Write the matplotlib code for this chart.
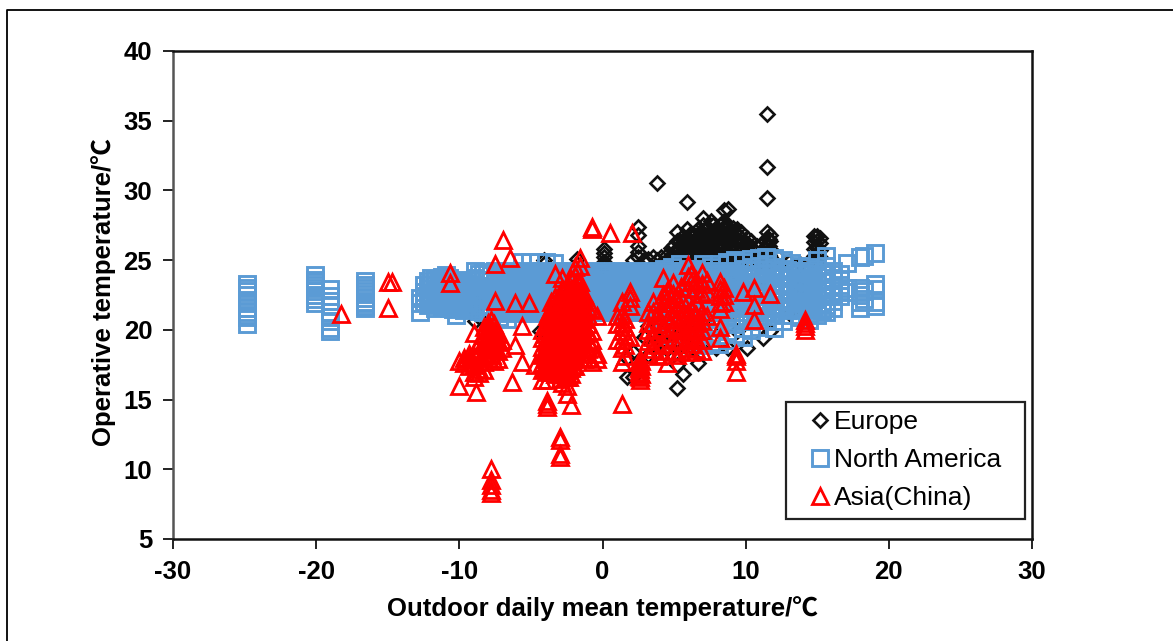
from matplotlib import pyplot as plt
from matplotlib.lines import Line2D

plt.rcParams['font.family'] = ['Liberation Sans', 'Noto Sans CJK SC', 'DejaVu Sans']
plt.rcParams['axes.unicode_minus'] = False

x_ticks = [-30, -20, -10, 0, 10, 20, 30]
y_ticks = [5, 10, 15, 20, 25, 30, 35, 40]
names = ["Europe", "North America", "Asia(China)"]

# every series is kept per column: one x value and the y values read at that x
europe_x = [-8.9, -8.6, -4.4, -4.1, -1.8, 0.1, 1.7, 2.1, 2.5, 2.9, 3.2, 3.5, 3.8, 4.1, 4.5, 4.8, 5.2, 5.6, 5.9,
            6.3, 6.7, 7.0, 7.3, 7.6, 7.9, 8.2, 8.5, 8.8, 9.1, 9.4, 9.7, 10.1, 10.4, 10.8, 11.2, 11.5, 11.7,
            12.2, 13.0, 13.8, 14.8, 15.0, 15.2,
            5.0, 5.4, 6.1, 6.5, 6.85, 7.15, 7.45, 7.75, 8.05, 8.35, 8.65, 8.95, 9.25, 9.55, 9.85, 10.25, 10.6, 11.0, 11.35, 11.6, 4.6, 6.0, 6.6, 7.2]
europe_y = [[22.1, 21.3, 20.6], [21.7, 20.9], [19.9], [25.0, 24.7], [25.1, 24.7], [25.8, 25.5, 25.2, 24.9, 24.6],
            [16.6, 18.0], [16.6, 18.4, 25.0], [27.4, 26.8, 26.0, 25.6, 25.2], [25.0, 19.5], [25.1, 20.3, 18.2],
            [25.2, 19.9, 18.9], [30.5, 25.0, 20.4, 18.4], [25.2, 20.1, 19.2], [25.4, 25.0, 20.3, 19.4, 18.6],
            [25.9, 25.3, 20.6, 19.7, 19.0], [27.0, 26.4, 25.8, 25.2, 24.7, 20.2, 19.3, 17.5, 15.8],
            [26.7, 26.2, 25.5, 24.9, 20.5, 19.6, 18.9, 16.8], [29.2, 27.2, 26.6, 26.0, 25.4, 24.8, 22.6, 20.1, 19.2],
            [26.9, 26.3, 25.7, 25.1, 24.6, 20.4, 19.5, 18.7], [27.2, 26.5, 25.9, 25.3, 24.7, 21.9, 19.9, 18.9, 17.6],
            [28.0, 27.5, 26.9, 26.3, 25.7, 25.1, 24.6, 20.3, 19.4], [27.4, 26.8, 26.2, 25.6, 25.0, 23.1, 19.8],
            [27.8, 27.1, 26.6, 26.0, 25.4, 24.8, 20.1], [27.3, 26.7, 26.1, 25.5, 24.9, 21.4, 18.7],
            [27.5, 26.9, 26.4, 25.8, 25.2, 24.7, 22.4], [28.6, 27.8, 27.2, 26.6, 26.0, 25.4, 24.9],
            [28.7, 27.4, 26.8, 26.2, 25.6, 25.0, 23.6, 18.7], [27.3, 26.7, 26.1, 25.5, 24.9, 21.2],
            [27.2, 26.5, 25.9, 25.3, 24.7, 19.9], [27.0, 26.3, 25.7, 25.1, 22.7], [26.6, 26.0, 25.4, 24.8, 18.7],
            [26.4, 25.8, 25.2, 21.6], [26.0, 25.4, 24.9, 20.9], [25.6, 25.1, 22.9, 19.4],
            [35.5, 31.7, 29.45, 27.0, 26.6, 26.1, 25.5, 21.4], [26.8, 26.4, 25.8, 25.2, 19.9], [25.3, 22.3],
            [24.9, 21.2], [24.7, 23.1], [26.7, 26.3, 25.8, 25.3, 24.9], [26.7, 26.4, 25.9, 25.4, 24.8],
            [26.6, 26.2, 25.7, 25.2],
            [26.1, 25.5, 24.9, 19.8, 19.0], [26.4, 25.8, 25.2, 19.6], [26.9, 26.3, 25.7, 25.1, 19.8, 19.3], [26.6, 26.0, 25.4, 24.8, 19.7, 19.0],
            [27.1, 26.6, 26.0, 25.4, 24.8, 20.0, 19.5], [27.2, 26.6, 26.0, 25.4, 24.8, 19.7], [26.9, 26.4, 25.8, 25.2, 24.7], [27.5, 26.9, 26.3, 25.7, 25.1],
            [27.2, 26.6, 26.0, 25.4, 24.8], [27.6, 27.0, 26.5, 25.9, 25.3, 24.7], [27.5, 26.9, 26.3, 25.7, 25.1], [27.1, 26.5, 25.9, 25.3, 24.8],
            [27.0, 26.4, 25.8, 25.2], [26.7, 26.1, 25.5, 24.9], [26.4, 25.8, 25.2], [26.1, 25.5, 25.0], [25.7, 25.2], [25.3, 24.9],
            [26.4, 25.9, 25.3], [26.5, 26.0, 25.4, 24.9], [18.8, 19.7, 20.1], [19.5, 18.6, 19.0], [19.4, 18.8], [19.2, 18.9]]

america_x = [-24.8, -20.1, -19.0, -16.6, -12.75, -12.2, -11.7, -11.2, -10.7, -10.2, -9.7, -9.3,
             -8.9, -8.35, -7.8, -7.25, -6.7, -6.15, -5.6, -5.05, -4.5, -3.95, -3.4, -2.85, -2.3, -1.75, -1.2, -0.65,
             -0.1, 0.45, 1.0, 1.55, 2.1, 2.65, 3.2, 3.75, 4.3, 4.85, 5.4, 5.95, 6.5, 7.05, 7.6, 8.15, 8.7, 9.25,
             9.8, 10.35, 10.9, 11.45, 12.0, 12.6, 13.2, 13.8, 14.4, 15.0, 15.6, 16.1, 16.6, 17.1, 18.0, 18.3, 19.0,
             -12.45, -11.95, -11.45, -10.95, -10.45, -9.95, -9.5,
             -8.65, -8.1, -7.5, -7.0, -6.45, -5.9, -5.35, -4.8, -4.25, -3.7, -3.1, -2.6, -2.05, -1.5, -0.95, -0.4,
             0.2, 0.75, 1.3, 1.85, 2.4, 2.95, 3.5, 4.0, 4.6, 5.15, 5.7, 6.2, 6.8, 7.3, 7.9, 8.4, 9.0, 9.5,
             10.1, 10.65, 11.2, 11.75, 12.3, 12.9, 13.5, 14.1, 14.7, 15.3]
america_y = [[23.3, 23.0, 22.8, 22.5, 22.1, 21.9, 21.6, 21.3, 21.1, 20.9, 20.4],
             [23.9, 23.6, 23.4, 23.2, 23.0, 22.8, 22.5, 22.2, 21.9],
             [22.9, 22.4, 22.1, 21.7, 21.3, 20.9, 20.6, 20.1, 19.9],
             [23.5, 23.2, 23.0, 22.8, 22.6, 22.3, 22.0, 21.9, 21.7, 21.6],
             [22.3, 21.9, 21.3], [23.5, 23.0, 22.6, 22.2, 21.8], [23.6, 23.2, 22.8, 22.4, 22.0, 21.6],
             [23.8, 23.4, 22.9, 22.5, 22.1, 21.7], [23.7, 23.3, 22.9, 22.5, 22.0, 21.6], [23.4, 23.0, 22.6, 22.2, 21.7, 21.1],
             [23.5, 23.1, 22.7, 22.3, 21.9, 21.4], [23.2, 22.8, 22.4, 22.0, 21.5],
             [24.2, 23.75, 23.3, 22.85, 22.4, 21.95, 21.5], [24.15, 23.5, 23.05, 22.6, 22.15, 21.7, 21.25],
             [23.95, 23.5, 23.05, 22.6, 22.15, 21.7, 21.25], [24.1, 23.65, 23.2, 22.75, 22.3, 21.85, 21.4, 20.9],
             [23.9, 23.45, 23.0, 22.55, 22.1, 21.65, 21.2, 20.8], [24.1, 23.65, 23.2, 22.75, 22.3, 21.85, 21.4],
             [24.9, 23.9, 23.45, 23.0, 22.55, 22.1, 21.65, 21.2], [24.9, 24.1, 23.65, 23.2, 22.75, 22.3, 21.85, 21.4],
             [24.85, 23.9, 23.45, 23.0, 22.55, 22.1, 21.65, 21.2], [24.9, 24.1, 23.65, 23.2, 22.75, 22.3, 21.85, 21.4],
             [24.8, 23.9, 23.45, 23.0, 22.55, 22.1, 21.65, 21.2], [24.1, 23.65, 23.2, 22.75, 22.3, 21.85, 21.4],
             [23.9, 23.45, 23.0, 22.55, 22.1, 21.65, 21.2], [24.1, 23.65, 23.2, 22.75, 22.3, 21.85, 21.4],
             [23.9, 23.45, 23.0, 22.55, 22.1, 21.65, 21.2], [24.1, 23.65, 23.2, 22.75, 22.3, 21.85, 21.4],
             [23.9, 23.45, 23.0, 22.55, 22.1, 21.65, 21.3], [24.1, 23.65, 23.2, 22.75, 22.3, 21.85, 21.4],
             [23.9, 23.45, 23.0, 22.55, 22.1, 21.65, 21.3], [24.1, 23.65, 23.2, 22.75, 22.3, 21.85, 21.4],
             [23.9, 23.45, 23.0, 22.55, 22.1, 21.65, 21.3], [24.1, 23.65, 23.2, 22.75, 22.3, 21.85, 21.4],
             [23.9, 23.45, 23.0, 22.55, 22.1, 21.65, 21.2], [24.1, 23.65, 23.2, 22.75, 22.3, 21.85, 21.4, 20.7],
             [24.4, 23.9, 23.45, 23.0, 22.55, 22.1, 21.65, 21.2, 20.5], [24.5, 24.1, 23.65, 23.2, 22.75, 22.3, 21.85, 21.4, 20.3, 19.6],
             [24.7, 23.9, 23.45, 23.0, 22.55, 22.1, 21.65, 21.2, 20.7, 20.1], [24.4, 24.1, 23.65, 23.2, 22.75, 22.3, 21.85, 21.4, 20.4, 19.5],
             [24.4, 23.9, 23.45, 23.0, 22.55, 22.1, 21.65, 21.0, 20.6, 19.9, 19.2], [24.7, 24.1, 23.65, 23.2, 22.75, 22.3, 21.85, 21.3, 20.2, 19.6, 18.9],
             [24.5, 23.9, 23.45, 23.0, 22.55, 22.1, 21.65, 21.0, 20.5, 19.8, 19.1], [24.7, 24.1, 23.65, 23.2, 22.75, 22.3, 21.85, 21.3, 20.3, 19.6, 19.0],
             [24.9, 23.9, 23.45, 23.0, 22.55, 22.1, 21.65, 21.0, 20.6, 19.9, 19.3], [25.0, 24.1, 23.65, 23.2, 22.75, 22.3, 21.85, 21.3, 20.4, 19.7],
             [24.9, 24.4, 23.9, 23.45, 22.9, 22.4, 21.9, 21.3, 20.8, 20.1, 19.5], [25.1, 24.5, 23.95, 23.4, 22.8, 22.3, 21.8, 21.2, 20.6, 20.0],
             [25.15, 24.6, 24.0, 23.5, 22.9, 22.4, 21.8, 21.3, 20.7, 20.2], [25.2, 24.7, 24.1, 23.5, 23.0, 22.4, 21.9, 21.3, 20.7],
             [25.15, 24.5, 24.0, 23.4, 22.9, 22.3, 21.8, 21.2, 20.6, 20.1], [25.0, 24.4, 23.9, 23.3, 22.8, 22.2, 21.7, 21.1, 20.6],
             [24.8, 24.2, 23.7, 23.2, 22.7, 22.1, 21.6, 21.1], [24.6, 24.1, 23.5, 23.0, 22.5, 21.9, 21.4, 20.9],
             [24.5, 24.0, 23.4, 22.9, 22.3, 21.8, 21.2, 20.7], [25.0, 24.4, 23.8, 23.3, 22.7, 22.2, 21.6, 21.1],
             [25.3, 24.6, 24.0, 23.5, 22.9, 22.4, 21.8, 21.3], [24.2, 23.7, 23.1, 22.6, 22.1, 21.6],
             [24.0, 23.6, 23.2, 22.8, 22.4], [24.8, 23.0, 22.7], [25.2, 23.0, 22.5, 22.0, 21.6], [25.3, 22.8, 22.2], [25.5, 23.3, 22.9, 22.0, 21.7],
             [23.2, 22.7, 22.4, 22.0], [23.7, 23.3, 22.9, 22.5, 22.1], [23.5, 23.1, 22.7, 22.3, 21.9], [23.9, 23.5, 23.1, 22.7, 22.3, 21.8],
             [23.5, 23.1, 22.7, 22.3, 21.9, 21.5], [23.6, 23.2, 22.8, 22.4, 22.0, 21.6], [23.3, 22.9, 22.5, 22.1, 21.7],
             [24.0, 23.6, 23.15, 22.7, 22.25, 21.8, 21.35], [24.0, 23.6, 23.15, 22.7, 22.25, 21.8, 21.35], [24.25, 23.8, 23.35, 22.9, 22.45, 22.0, 21.55],
             [24.0, 23.55, 23.1, 22.65, 22.2, 21.75, 21.3], [24.25, 23.8, 23.35, 22.9, 22.45, 22.0, 21.55], [24.0, 23.55, 23.1, 22.65, 22.2, 21.75, 21.3],
             [24.25, 23.8, 23.35, 22.9, 22.45, 22.0, 21.55], [24.0, 23.55, 23.1, 22.65, 22.2, 21.75, 21.3], [24.25, 23.8, 23.35, 22.9, 22.45, 22.0, 21.55],
             [24.0, 23.55, 23.1, 22.65, 22.2, 21.75, 21.3], [24.25, 23.8, 23.35, 22.9, 22.45, 22.0, 21.55], [24.0, 23.55, 23.1, 22.65, 22.2, 21.75, 21.3],
             [24.25, 23.8, 23.35, 22.9, 22.45, 22.0, 21.55], [24.0, 23.55, 23.1, 22.65, 22.2, 21.75, 21.3], [24.25, 23.8, 23.35, 22.9, 22.45, 22.0, 21.55],
             [24.0, 23.55, 23.1, 22.65, 22.2, 21.75, 21.3],
             [24.25, 23.8, 23.35, 22.9, 22.45, 22.0, 21.55], [24.0, 23.55, 23.1, 22.65, 22.2, 21.75, 21.3], [24.25, 23.8, 23.35, 22.9, 22.45, 22.0, 21.55],
             [24.0, 23.55, 23.1, 22.65, 22.2, 21.75, 21.3], [24.25, 23.8, 23.35, 22.9, 22.45, 22.0, 21.55], [24.0, 23.55, 23.1, 22.65, 22.2, 21.75, 21.3],
             [24.25, 23.8, 23.35, 22.9, 22.45, 22.0, 21.55], [24.0, 23.55, 23.1, 22.65, 22.2, 21.75, 21.3], [24.25, 23.8, 23.35, 22.9, 22.45, 22.0, 21.55],
             [24.0, 23.55, 23.1, 22.65, 22.2, 21.75, 21.3], [24.25, 23.8, 23.35, 22.9, 22.45, 22.0, 21.55], [24.0, 23.55, 23.1, 22.65, 22.2, 21.75, 21.3],
             [24.25, 23.8, 23.35, 22.9, 22.45, 22.0, 21.55], [24.0, 23.55, 23.1, 22.65, 22.2, 21.75, 21.3], [24.25, 23.8, 23.35, 22.9, 22.45, 22.0, 21.55],
             [24.0, 23.55, 23.1, 22.65, 22.2, 21.75, 21.3], [24.25, 23.8, 23.35, 22.9, 22.45, 22.0, 21.55], [24.0, 23.55, 23.1, 22.65, 22.2, 21.75, 21.3],
             [24.3, 23.8, 23.3, 22.7, 22.1, 21.55, 21.0], [24.3, 23.7, 23.2, 22.6, 22.0, 21.5, 20.9], [24.4, 23.8, 23.25, 22.65, 22.1, 21.6, 21.0],
             [24.3, 23.7, 23.2, 22.6, 22.15, 21.55], [24.2, 23.75, 23.2, 22.6, 22.05, 21.5], [24.3, 23.75, 23.15, 22.6, 22.0, 21.45],
             [24.2, 23.65, 23.1, 22.5, 22.05, 21.5], [24.1, 23.7, 23.15, 22.6, 22.0, 21.5], [24.25, 23.7, 23.1, 22.5, 22.0, 21.4], [24.0, 23.5, 23.0, 22.45, 21.9, 21.4]]

asia_x = [-18.25, -15.0, -14.7, -10.65, -10.0, -9.7, -9.3, -9.0, -8.85, -8.6, -8.3, -8.0, -7.8, -7.6, -7.5, -7.3, -7.0, -6.95,
          -6.45, -6.3, -6.1, -5.6, -5.15, -4.7, -4.2, -3.9, -3.6, -3.3, -3.0, -2.8, -2.5, -2.2, -1.9, -1.6, -1.3, -1.0, -0.7, -0.4,
          0.5, 1.0, 1.35, 1.6, 1.9, 2.05, 2.6, 3.2, 3.5, 3.9, 4.2, 4.5, 4.9, 5.2, 5.5, 5.95, 6.2, 6.5, 6.95, 7.3, 8.2, 8.5,
          9.3, 9.8, 10.55, 11.7, 14.15,
          -4.05, -3.75, -3.45, -3.15, -2.9, -2.65, -2.35, -2.05, -1.75, -1.45, -7.9, -7.7, 2.55, 2.7]
asia_y = [[21.15], [23.4, 21.55], [23.4], [24.1, 23.35], [17.8, 16.0], [18.0, 17.6], [18.3, 17.9, 17.4], [19.8, 18.1, 17.5, 17.0, 16.6],
          [18.6, 18.0, 15.55], [19.1, 18.5, 17.8, 17.2, 16.9], [20.2, 19.6, 19.0, 18.3, 17.7, 17.1], [20.5, 20.0, 19.4, 18.8, 18.2],
          [20.7, 20.1, 19.5, 18.9, 18.3, 10.0, 9.2, 8.9, 8.5, 8.3], [20.4, 19.8, 19.2, 18.6, 17.8], [24.7, 22.1, 20.0, 19.4, 18.8], [19.7, 19.1, 18.5, 17.9],
          [19.3, 18.7], [26.45], [25.15], [16.25], [21.9, 18.9], [20.3, 17.7], [21.95], [17.5], [20.0, 19.4, 18.8, 18.2, 17.6, 17.1, 16.4],
          [21.0, 20.5, 20.0, 19.5, 19.0, 18.5, 18.0, 17.5, 17.0, 16.4, 14.9, 14.7, 14.5], [22.0, 21.5, 21.0, 20.5, 20.0, 19.5, 19.0, 18.5, 18.0, 17.5, 17.0],
          [24.0, 22.35, 21.8, 21.3, 20.8, 20.3, 19.8, 19.3, 18.8, 18.3, 17.8, 17.3, 16.8], [22.5, 22.0, 21.5, 21.0, 20.5, 20.0, 19.5, 19.0, 18.5, 18.0, 17.5, 17.0, 16.5, 12.3, 12.1, 11.1, 10.9],
          [23.7, 22.9, 22.3, 21.8, 21.3, 20.8, 20.3, 19.8, 19.3, 18.8, 18.3, 17.8, 17.3, 16.8, 16.2],
          [23.2, 22.6, 22.1, 21.6, 21.1, 20.6, 20.1, 19.6, 19.1, 18.6, 18.1, 17.6, 17.1, 16.6, 16.0, 15.4],
          [23.6, 22.9, 22.3, 21.8, 21.3, 20.8, 20.3, 19.8, 19.3, 18.8, 18.3, 17.8, 17.3, 16.8, 14.6],
          [24.5, 23.9, 23.2, 22.6, 22.1, 21.6, 21.1, 20.6, 20.1, 19.6, 19.1, 18.6, 18.1, 17.4],
          [25.15, 24.6, 23.4, 22.8, 22.2, 21.6, 21.0, 20.4, 19.8, 19.2, 18.6, 18.0], [22.6, 22.0, 21.4, 20.8, 20.2, 19.6, 19.0, 18.4, 17.9],
          [21.6, 21.0, 20.4, 19.8, 19.2, 18.6, 18.0], [27.4, 27.2, 21.4, 19.9, 19.3, 18.7, 17.7], [21.0, 18.3, 17.9],
          [26.95], [21.0, 20.4, 19.3], [22.0, 21.1, 20.5, 19.9, 19.3, 18.7, 17.7, 14.7], [20.8, 20.2, 19.6, 18.9, 18.1],
          [22.7, 22.3, 21.7, 19.5], [26.95], [17.9, 17.5, 17.2, 16.9, 16.6, 16.4], [21.3, 20.5, 20.0, 19.2, 18.3], [22.0, 21.3, 20.5, 19.5, 18.6],
          [21.1, 20.4, 19.7, 18.9, 18.1], [23.7, 22.5, 21.9, 21.3, 20.1, 19.0, 18.2], [22.8, 22.2, 21.5, 20.7, 19.8, 18.5, 17.6],
          [23.35, 22.6, 21.9, 21.0, 20.2, 19.3, 18.4], [22.2, 21.5, 20.8, 20.0, 19.2, 18.2], [23.1, 22.3, 21.6, 20.8, 20.0, 19.3, 18.5],
          [24.65, 23.8, 23.0, 22.1, 21.3, 20.6, 20.0, 19.4, 18.7], [24.0, 23.4, 21.5, 20.8, 20.2, 19.6, 19.0, 18.4],
          [23.6, 22.9, 21.9, 21.1, 20.5, 19.9, 19.3, 18.6], [24.05, 23.3, 22.6, 21.3, 20.6, 20.0, 19.3, 18.5], [23.5, 22.7, 21.0],
          [23.4, 22.9, 22.4, 21.9, 21.5, 20.2, 19.4], [23.0, 22.5, 22.0], [18.3, 18.1, 17.8, 17.0], [22.7], [23.0, 21.8, 20.7],
          [22.55], [20.7, 20.5, 20.3, 20.0],
          [20.3, 19.7, 19.1, 18.5, 17.9, 17.3], [21.3, 20.8, 20.3, 19.8, 19.3, 18.8, 18.3, 17.8, 17.3], [21.6, 21.1, 20.6, 20.1, 19.6, 19.1, 18.6, 18.1, 17.6, 17.1],
          [21.6, 21.1, 20.6, 20.1, 19.6, 19.1, 18.6, 18.1, 17.6, 17.1], [22.0, 21.5, 21.0, 20.5, 20.0, 19.5, 19.0, 18.5, 18.0, 17.5, 17.0],
          [22.3, 21.8, 21.3, 20.8, 20.3, 19.8, 19.3, 18.8, 18.3, 17.8, 17.3, 16.8], [22.8, 22.3, 21.8, 21.3, 20.8, 20.3, 19.8, 19.3, 18.8, 18.3, 17.8, 17.3, 16.6],
          [23.0, 22.4, 21.9, 21.4, 20.9, 20.4, 19.9, 19.4, 18.9, 18.4, 17.9, 17.4], [23.4, 22.5, 21.9, 21.3, 20.7, 20.1, 19.5, 18.9, 18.3], [22.3, 21.7, 21.1, 20.5, 19.9, 19.3],
          [20.2, 19.7, 19.1, 18.6, 18.0], [20.0, 19.4, 18.8, 18.2], [17.7, 17.3, 17.0, 16.7], [17.8, 17.4, 16.8]]


def flatten(columns, values):
    # turn one x per column into plain x and y lists for plotting
    xs, ys = [], []
    for column, column_values in zip(columns, values):
        for value in column_values:
            xs.append(column)
            ys.append(value)
    return xs, ys


europe_style = dict(linestyle="none", marker="D", markersize=7.6, markerfacecolor="none", markeredgecolor="#111111", markeredgewidth=1.9)
america_style = dict(linestyle="none", marker="s", markersize=11, markerfacecolor="none", markeredgecolor="#5B9BD5", markeredgewidth=2.1)
asia_style = dict(linestyle="none", marker="^", markersize=11.5, markerfacecolor="none", markeredgecolor="#FF0000", markeredgewidth=2.0)

fig = plt.figure(figsize=(11.73, 6.41), dpi=100)
ax = fig.add_axes([173 / 1173, 1 - 539 / 641, (1032 - 173) / 1173, (539 - 51) / 641])

xs, ys = flatten(europe_x, europe_y)
ax.plot(xs, ys, **europe_style)
xs, ys = flatten(america_x, america_y)
ax.plot(xs, ys, **america_style)
xs, ys = flatten(asia_x, asia_y)
ax.plot(xs, ys, **asia_style)

ax.set_xlim(-30, 30)
ax.set_ylim(5, 40)
ax.set_xticks(x_ticks)
ax.set_yticks(y_ticks)
ax.tick_params(axis="both", length=7, width=1.4, labelsize=18.5, color="#222222")
ax.tick_params(axis="x", pad=8)
ax.tick_params(axis="y", pad=8)
for label in ax.get_xticklabels() + ax.get_yticklabels():
    label.set_fontweight("bold")
for spine in ["top", "right", "bottom"]:
    ax.spines[spine].set_linewidth(1.8)
    ax.spines[spine].set_color("#111111")
ax.spines["left"].set_linewidth(1.8)
ax.spines["left"].set_color("#555555")
ax.set_xlabel("Outdoor daily mean temperature/℃", fontsize=18.5, fontweight="bold", labelpad=9)
ax.set_ylabel("Operative temperature/℃", fontsize=18.5, fontweight="bold", labelpad=5.5)
ax.yaxis.label.set_y(0.505)

handles = [Line2D([], [], **europe_style), Line2D([], [], **america_style), Line2D([], [], **asia_style)]
legend = ax.legend(handles, names, loc="lower left", bbox_to_anchor=((786 - 173) / 859, (539 - 519) / 488, (1025 - 786) / 859, 0),
                   mode="expand", borderaxespad=0, fontsize=19, numpoints=1, handlelength=1.95, handletextpad=-0.45,
                   borderpad=0.33, labelspacing=0.53, fancybox=False, framealpha=1, edgecolor="#222222")
legend.get_frame().set_linewidth(1.6)

# outer picture frame, only the left and top sides show in the crop
fig.add_artist(Line2D([7 / 1173, 7 / 1173, 1], [0, 1 - 10 / 641, 1 - 10 / 641], color="black", linewidth=1.3))

plt.savefig("out.png", dpi=100)
